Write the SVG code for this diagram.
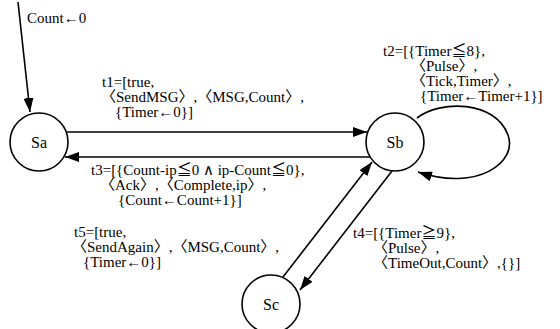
<svg xmlns="http://www.w3.org/2000/svg" width="560" height="329" viewBox="0 0 560 329">
<defs>
<style>
text{font-family:'Liberation Serif','Times New Roman','DejaVu Serif','Noto Sans CJK SC',serif;font-size:15px;fill:#000}
.st{font-size:16px}
.node{fill:#fff;stroke:#000;stroke-width:1.6}
.edge{fill:none;stroke:#000;stroke-width:1.6}
</style>
<marker id="ah" viewBox="0 0 14 10" refX="14" refY="5" markerWidth="14" markerHeight="10" markerUnits="userSpaceOnUse" orient="auto">
<path d="M0,0 L14,5 L0,10 Z" fill="#000"/>
</marker>
</defs>
<rect width="560" height="329" fill="#fff"/>
<g id="connectors">
<line class="edge" x1="18" y1="2" x2="30" y2="112" marker-end="url(#ah)"/>
<line class="edge" x1="67" y1="132" x2="367" y2="132" marker-end="url(#ah)"/>
<line class="edge" x1="370" y1="157" x2="65" y2="157" marker-end="url(#ah)"/>
<path class="edge" d="M417,118 C440,100 495,100 508,135 C518,162 478,192 418,172" marker-end="url(#ah)"/>
<line class="edge" x1="283" y1="277" x2="372" y2="162" marker-end="url(#ah)"/>
<line class="edge" x1="392" y1="171" x2="300" y2="290" marker-end="url(#ah)"/>
</g>
<g id="node-Sa">
<circle class="node" cx="39" cy="142" r="29"/>
<text class="st" x="39" y="148" text-anchor="middle">Sa</text>
</g>
<g id="node-Sb">
<circle class="node" cx="395" cy="142" r="29"/>
<text class="st" x="395" y="148" text-anchor="middle">Sb</text>
</g>
<g id="node-Sc">
<circle class="node" cx="271" cy="304" r="29"/>
<text class="st" x="271" y="310" text-anchor="middle">Sc</text>
</g>
<g id="labels">
<text x="27" y="23">Count←0</text>
<text x="102" y="87">t1=[true,</text>
<text x="101" y="102">〈SendMSG〉,〈MSG,Count〉,</text>
<text x="115" y="117">{Timer←0}]</text>
<text x="383" y="56">t2=[{Timer≦8},</text>
<text x="411" y="71">〈Pulse〉,</text>
<text x="411" y="86">〈Tick,Timer〉,</text>
<text x="420" y="101">{Timer←Timer+1}]</text>
<text x="91" y="175">t3=[{Count-ip≦0 ∧ ip-Count≦0},</text>
<text x="100" y="190">〈Ack〉,〈Complete,ip〉,</text>
<text x="118" y="205">{Count←Count+1}]</text>
<text x="74" y="237">t5=[true,</text>
<text x="72" y="252">〈SendAgain〉,〈MSG,Count〉,</text>
<text x="83" y="267">{Timer←0}]</text>
<text x="353" y="238">t4=[{Timer≧9},</text>
<text x="373" y="253">〈Pulse〉,</text>
<text x="373" y="268">〈TimeOut,Count〉,{}]</text>
</g>
</svg>
